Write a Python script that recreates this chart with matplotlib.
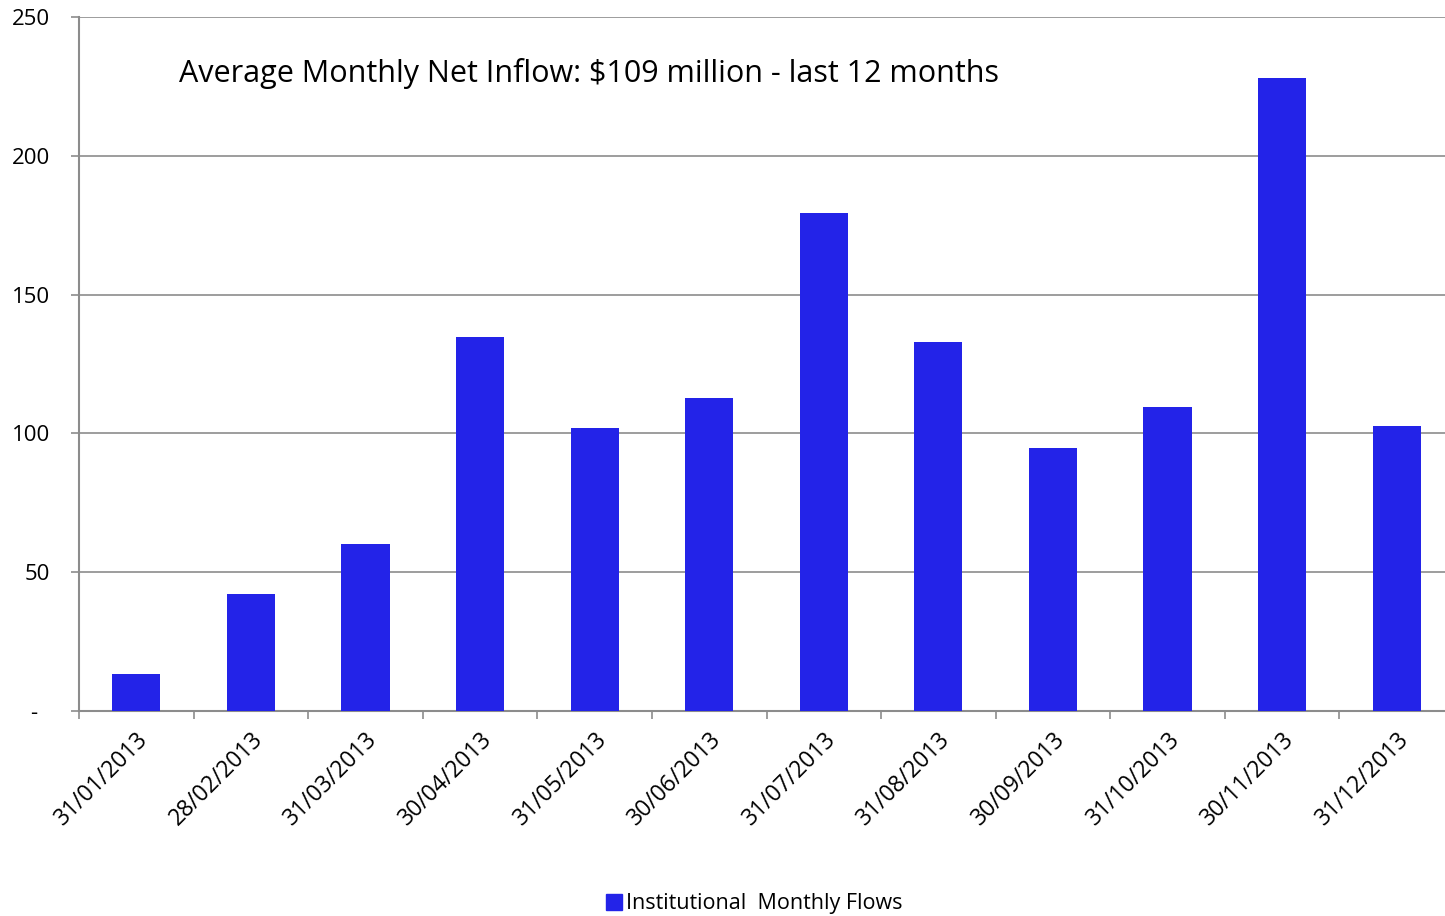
import numpy as np
import matplotlib
matplotlib.use("Agg")
import matplotlib.pyplot as plt
from matplotlib.patches import Patch

dates = ["31/01/2013", "28/02/2013", "31/03/2013", "30/04/2013", "31/05/2013", "30/06/2013",
         "31/07/2013", "31/08/2013", "30/09/2013", "31/10/2013", "30/11/2013", "31/12/2013"]
flows = [13.3, 42.1, 60.2, 134.7, 101.9, 112.8, 179.4, 132.9, 94.7, 109.5, 228.0, 102.7]
yticks = [0, 50, 100, 150, 200, 250]
ylabels = ["-  ", "50", "100", "150", "200", "250"]

plt.rcParams['font.family'] = ['Open Sans', 'DejaVu Sans']
grey = "#8c8c8c"
blue = "#2323e8"

fig = plt.figure(figsize=(14.45, 9.16), dpi=100)
# plot area runs a little past the right edge of the figure, as in the original
ax = fig.add_axes([79/1445, 205/916, 1375/1445, 694/916])

x = np.arange(len(dates))
ax.bar(x, flows, width=0.42, color=blue, zorder=3)

ax.set_xlim(-0.5, len(dates) - 0.5)
ax.set_ylim(0, 250)
ax.set_yticks(yticks)
ax.set_yticklabels(ylabels, fontsize=16)
ax.yaxis.grid(True, color=grey, linewidth=1.2, zorder=0)

ax.set_xticks(x)
ax.set_xticklabels(dates, rotation=45, ha="right", rotation_mode="anchor", fontsize=16.5)
ax.tick_params(axis="x", which="major", length=0, pad=12)
ax.set_xticks(np.arange(len(dates)) - 0.5, minor=True)
ax.tick_params(axis="x", which="minor", length=6, color=grey, width=1.2)
ax.tick_params(axis="y", length=6, color=grey, width=1.2, pad=15)

for s in ["top", "right"]:
    ax.spines[s].set_visible(False)
for s in ["left", "bottom"]:
    ax.spines[s].set_color(grey)
    ax.spines[s].set_linewidth(1.5)

ax.text(100/1375, 0.918, "Average Monthly Net Inflow: $109 million - last 12 months",
        transform=ax.transAxes, fontsize=22, va="center", ha="left")

fig.legend(handles=[Patch(color=blue)], labels=["Institutional  Monthly Flows"],
           loc="center", bbox_to_anchor=(754/1445, 1 - 904/916), frameon=False,
           fontsize=15.5, handlelength=0.75, handleheight=0.75, handletextpad=0.2)

fig.savefig("out.png", dpi=100)
